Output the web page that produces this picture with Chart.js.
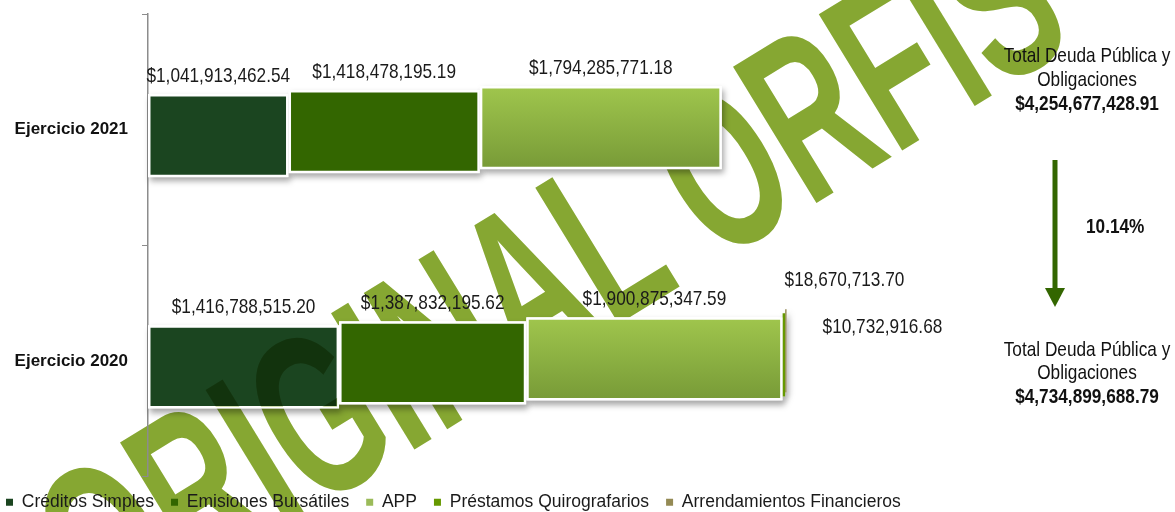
<!DOCTYPE html>
<html>
<head>
<meta charset="utf-8">
<script src="https://cdn.jsdelivr.net/npm/chart.js@4.4.0/dist/chart.umd.min.js"></script>
<style>
  html, body { margin: 0; padding: 0; background: #fff; }
  #wrap { width: 1175px; height: 512px; position: relative; }
</style>
</head>
<body>
<div id="wrap"><canvas id="deuda"></canvas></div>
<script>
// data
const categories = ["Ejercicio 2021", "Ejercicio 2020"];
const seriesNames = ["Créditos Simples", "Emisiones Bursátiles", "APP", "Préstamos Quirografarios", "Arrendamientos Financieros"];
const creditosSimples = [1041913462.54, 1416788515.20];
const emisionesBursatiles = [1418478195.19, 1387832195.62];
const appValues = [1794285771.18, 1900875347.59];
const prestamosQuiro = [null, 18670713.70];
const arrendamientos = [null, 10732916.68];
const totalText = ["Total Deuda Pública y", "Obligaciones"];

const FONT = "'Liberation Sans', Arial, sans-serif";
const legendColors = ['#1b4520', '#336600', '#9bbb59', '#669900', '#948a54'];

function money(v) {
    return '$' + v.toLocaleString('en-US', { minimumFractionDigits: 2, maximumFractionDigits: 2 });
}

function sumAt(i) {
    return [creditosSimples, emisionesBursatiles, appValues, prestamosQuiro, arrendamientos]
        .reduce((s, arr) => s + (arr[i] || 0), 0);
}

// each later segment sits a little higher (pseudo 3d look of the original)
function lift(di) {
    return 6 - 4 * di;
}

// tall, narrow text like the original (no narrow font installed)
function narrowText(ctx, text, x, y, align, bold) {
    ctx.save();
    ctx.font = (bold ? 'bold ' : '') + '21px ' + FONT;
    ctx.translate(x, y);
    ctx.scale(0.82, 1);
    ctx.textAlign = align;
    ctx.textBaseline = 'middle';
    ctx.fillText(text, 0, 0);
    ctx.restore();
}

// light green gradient for APP bars
function appGradient(c) {
    const chart = c.chart;
    if (c.type !== 'data' || !chart.chartArea || !chart.scales.y) return '#8db443';
    const yc = chart.scales.y.getPixelForValue(c.dataIndex);
    if (!isFinite(yc)) return '#8db443';
    const g = chart.ctx.createLinearGradient(0, yc - 42, 0, yc + 42);
    g.addColorStop(0, '#a0c64d');
    g.addColorStop(1, '#779a37');
    return g;
}

function drawWatermark(ctx) {
    ctx.save();
    ctx.translate(591, 341);
    ctx.rotate(-31.5 * Math.PI / 180);
    ctx.scale(0.6, 1);
    ctx.font = "bold 232px 'Liberation Sans', sans-serif";
    ctx.textAlign = 'center';
    ctx.textBaseline = 'alphabetic';
    ctx.fillText('ORIGINAL ORFIS', 0, 0);
    ctx.restore();
}

const watermark = {
    id: 'watermark',
    beforeDraw(chart) {
        const ctx = chart.ctx;
        ctx.save();
        ctx.fillStyle = '#86a732';
        drawWatermark(ctx);
        ctx.restore();
    },
    afterDatasetsDraw(chart) {
        // the stamp darkens the dark bars where they overlap
        const ctx = chart.ctx;
        chart.getDatasetMeta(0).data.forEach((bar) => {
            const top = bar.y - bar.height / 2 + lift(0);
            ctx.save();
            ctx.beginPath();
            ctx.rect(Math.min(bar.x, bar.base) + 2, top + 2, Math.abs(bar.x - bar.base) - 4, bar.height - 4);
            ctx.clip();
            ctx.globalCompositeOperation = 'multiply';
            ctx.globalAlpha = 0.75;
            ctx.fillStyle = '#86a732';
            drawWatermark(ctx);
            ctx.restore();
        });
    }
};

const stepBars = {
    id: 'stepBars',
    beforeDatasetDraw(chart, args) {
        chart.ctx.save();
        chart.ctx.translate(0, lift(args.index));
    },
    afterDatasetDraw(chart) {
        chart.ctx.restore();
    }
};

const barShadow = {
    id: 'barShadow',
    beforeDatasetsDraw(chart) {
        const ctx = chart.ctx;
        ctx.save();
        ctx.shadowColor = 'rgba(0,0,0,0.35)';
        ctx.shadowBlur = 6;
        ctx.shadowOffsetX = 2;
        ctx.shadowOffsetY = 4;
        ctx.fillStyle = '#fff';
        chart.data.datasets.forEach((ds, di) => {
            chart.getDatasetMeta(di).data.forEach((bar, i) => {
                if (ds.data[i] == null) return;
                const l = Math.min(bar.x, bar.base);
                const w = Math.abs(bar.x - bar.base);
                ctx.fillRect(l, bar.y - bar.height / 2 + lift(di), w, bar.height);
            });
        });
        ctx.restore();
    }
};

const valueLabels = {
    id: 'valueLabels',
    afterDatasetsDraw(chart) {
        const ctx = chart.ctx;
        ctx.save();
        ctx.fillStyle = '#1a1a1a';
        chart.data.datasets.forEach((ds, di) => {
            chart.getDatasetMeta(di).data.forEach((bar, i) => {
                const v = ds.data[i];
                if (v == null) return;
                const top = bar.y - bar.height / 2 + lift(di);
                const pos = ds.labelPos || 'top';
                if (pos === 'top') {
                    narrowText(ctx, money(v), (bar.x + bar.base) / 2, top - 18, 'center');
                } else if (pos === 'above') {
                    narrowText(ctx, money(v), bar.base + 2, top - 33, 'left');
                } else {
                    narrowText(ctx, money(v), bar.x + 36, top + 18, 'left');
                }
            });
        });
        ctx.restore();
    }
};

const sidePanel = {
    id: 'sidePanel',
    afterDraw(chart) {
        const ctx = chart.ctx;
        const t2021 = sumAt(0);
        const t2020 = sumAt(1);
        const change = (t2020 - t2021) / t2020 * 100;
        ctx.save();
        ctx.fillStyle = '#111';
        narrowText(ctx, totalText[0], 1087, 56, 'center');
        narrowText(ctx, totalText[1], 1087, 80, 'center');
        narrowText(ctx, money(t2021), 1087, 104, 'center', true);
        narrowText(ctx, totalText[0], 1087, 350, 'center');
        narrowText(ctx, totalText[1], 1087, 373, 'center');
        narrowText(ctx, money(t2020), 1087, 397, 'center', true);
        narrowText(ctx, change.toFixed(2) + '%', 1086, 227, 'left', true);

        // arrow
        ctx.fillStyle = '#336600';
        ctx.fillRect(1052.5, 160, 5, 130);
        ctx.beginPath();
        ctx.moveTo(1045, 288);
        ctx.lineTo(1065, 288);
        ctx.lineTo(1055, 307);
        ctx.closePath();
        ctx.fill();
        ctx.restore();
    }
};

Chart.defaults.font.family = FONT;
Chart.defaults.font.size = 17.5;
Chart.defaults.color = '#1a1a1a';

new Chart(document.getElementById('deuda'), {
    type: 'bar',
    data: {
        labels: categories,
        datasets: [
            { label: seriesNames[0], data: creditosSimples, backgroundColor: '#1b4520' },
            { label: seriesNames[1], data: emisionesBursatiles, backgroundColor: '#336600' },
            { label: seriesNames[2], data: appValues, backgroundColor: appGradient },
            { label: seriesNames[3], data: prestamosQuiro, backgroundColor: '#669900', borderWidth: 0, labelPos: 'above' },
            { label: seriesNames[4], data: arrendamientos, backgroundColor: '#948a54', borderWidth: 0, labelPos: 'right' }
        ]
    },
    options: {
        indexAxis: 'y',
        responsive: true,
        maintainAspectRatio: false,
        animation: false,
        layout: { padding: { left: -11, top: 14, right: 2, bottom: -9 } },
        datasets: {
            bar: {
                barPercentage: 0.9,
                categoryPercentage: 0.4,
                borderColor: '#ffffff',
                borderWidth: 2.5,
                borderSkipped: false
            }
        },
        scales: {
            x: {
                display: false,
                stacked: true,
                min: 0,
                max: 7.6e9
            },
            y: {
                stacked: true,
                afterFit(scale) {
                    scale.width = 159;
                    scale.paddingTop = 0;
                    scale.paddingBottom = 0;
                },
                border: { display: true, color: '#8c8c8c', width: 1.5 },
                grid: { display: true, drawOnChartArea: false, drawTicks: true, tickLength: 6, color: '#8c8c8c', offset: true },
                ticks: { padding: 14, color: '#111', font: { weight: 'bold', size: 17 } }
            }
        },
        plugins: {
            legend: {
                position: 'bottom',
                align: 'start',
                labels: {
                    boxWidth: 7,
                    boxHeight: 7,
                    padding: 17,
                    color: '#1a1a1a',
                    font: { size: 17.5 },
                    generateLabels(chart) {
                        const items = Chart.defaults.plugins.legend.labels.generateLabels(chart);
                        items.forEach((it, i) => {
                            it.fillStyle = legendColors[i];
                            it.strokeStyle = legendColors[i];
                            it.lineWidth = 0;
                        });
                        return items;
                    }
                }
            },
            tooltip: { enabled: false }
        }
    },
    plugins: [watermark, stepBars, barShadow, valueLabels, sidePanel]
});
</script>
</body>
</html>
